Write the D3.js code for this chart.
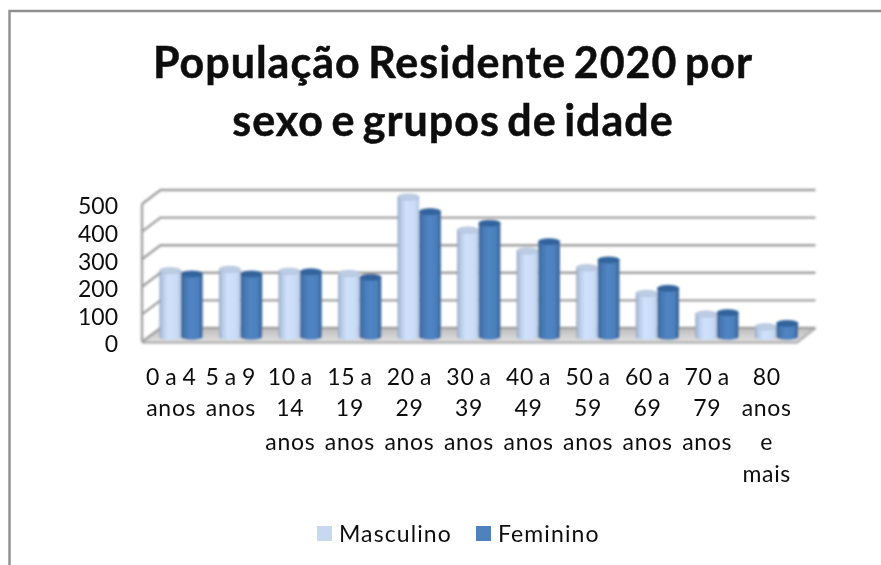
<!DOCTYPE html>
<html>
<head>
<meta charset="utf-8">
<script src="https://cdn.jsdelivr.net/npm/d3@7"></script>
<style>
  html, body { margin: 0; padding: 0; background: #fff; }
  svg { display: block; }
  text { font-family: Lato, "Open Sans", sans-serif; fill: #111; }
</style>
</head>
<body>
<div id="container"></div>
<script>
const titleLines = ["População Residente 2020 por", "sexo e grupos de idade"]
const categories = [
    ["0 a 4", "anos"], ["5 a 9", "anos"], ["10 a", "14", "anos"], ["15 a", "19", "anos"],
    ["20 a", "29", "anos"], ["30 a", "39", "anos"], ["40 a", "49", "anos"], ["50 a", "59", "anos"],
    ["60 a", "69", "anos"], ["70 a", "79", "anos"], ["80", "anos", "e", "mais"]
]
const masculino = [233, 238, 231, 223, 500, 380, 305, 244, 151, 76, 30]
const feminino = [221, 221, 229, 209, 447, 405, 338, 272, 169, 81, 42]
const seriesNames = ["Masculino", "Feminino"]
const yTicks = [0, 100, 200, 300, 400, 500]

const width = 881, height = 565
const depthX = 18.5, depthY = 14      // how far the back wall sits from the front edge

const svg = d3.select("#container").append("svg")
    .attr("width", width)
    .attr("height", height)

const defs = svg.append("defs")
function blur(id, amount) {
    defs.append("filter").attr("id", id)
        .attr("x", "-10%").attr("y", "-10%").attr("width", "120%").attr("height", "120%")
        .append("feGaussianBlur").attr("stdDeviation", amount)
}
blur("soft", 0.85)
blur("softText", 0.35)

function hGradient(id, stops) {
    const g = defs.append("linearGradient").attr("id", id)
    stops.forEach(s => g.append("stop").attr("offset", s[0]).attr("stop-color", s[1]))
}
hGradient("barM", [[0, "#8fa3bf"], [0.12, "#b4c7e2"], [0.4, "#cfe1fb"], [0.8, "#cadcf6"], [1, "#b3c6e0"]])
hGradient("barF", [[0, "#335f92"], [0.14, "#4475ae"], [0.45, "#5085c4"], [0.8, "#4c80bd"], [1, "#2f5d92"]])
const floorGrad = defs.append("linearGradient").attr("id", "floor")
    .attr("x1", 0).attr("x2", 0).attr("y1", 0).attr("y2", 1)
floorGrad.append("stop").attr("offset", 0).attr("stop-color", "#bdbdbd")
floorGrad.append("stop").attr("offset", 1).attr("stop-color", "#e0e0e0")

// chart frame, only top and left are inside the crop
svg.append("path")
    .attr("d", `M9.5,${height}V11H${width}`)
    .attr("fill", "none")
    .attr("stroke", "#8f8f8f")
    .attr("stroke-width", 2.4)

const title = svg.append("text")
    .attr("text-anchor", "middle")
    .attr("font-weight", 700)
    .attr("font-size", 43)
    .attr("letter-spacing", 1)
    .attr("word-spacing", -4)
    .attr("stroke", "#111")
    .attr("stroke-width", 0.5)
    .attr("filter", "url(#softText)")
title.selectAll("tspan")
    .data(titleLines)
    .join("tspan")
    .attr("x", 453)
    .attr("y", (d, i) => 77.5 + i * 58.5)
    .text(d => d)

const x = d3.scaleBand().domain(d3.range(categories.length)).range([142, 797])
const y = d3.scaleLinear().domain([0, 500]).range([342, 204])

const plot = svg.append("g").attr("filter", "url(#soft)")

// floor
plot.append("path")
    .attr("d", `M${x.range()[0]},${y(0)}L${x.range()[1]},${y(0)}L${x.range()[1] + depthX},${y(0) - depthY}L${x.range()[0] + depthX},${y(0) - depthY}Z`)
    .attr("fill", "url(#floor)")
plot.append("path")
    .attr("d", `M${x.range()[0]},${y(0) + 0.5}H${x.range()[1]}L${x.range()[1] + depthX},${y(0) - depthY}`)
    .attr("fill", "none")
    .attr("stroke", "#b3b3b3")
    .attr("stroke-width", 2.4)

// gridlines on the back and left walls
plot.append("g")
    .selectAll("path")
    .data(yTicks)
    .join("path")
    .attr("d", d => `M${x.range()[0]},${y(d)}l${depthX},${-depthY}H${x.range()[1] + depthX}`)
    .attr("fill", "none")
    .attr("stroke", "#a0a0a0")
    .attr("stroke-width", 2.4)
plot.append("line")
    .attr("x1", x.range()[0]).attr("x2", x.range()[0])
    .attr("y1", y(500)).attr("y2", y(0))
    .attr("stroke", "#a0a0a0")
    .attr("stroke-width", 2.4)

// cylinders, standing half way into the floor
const barW = 21.6, rimY = 3
const midX = depthX / 2, midY = depthY / 2

function barLeft(i, s) {
    return x(i) + midX + (x.bandwidth() - 2 * barW) / 2 + s * barW
}

function drawSeries(values, s, fill, rim, cap) {
    const g = plot.append("g")
    const bars = g.selectAll("g").data(values).join("g")
    bars.append("path")
        .attr("fill", fill)
        .attr("d", (d, i) => {
            const l = barLeft(i, s), top = y(d) - midY, base = y(0) - midY + 2
            return `M${l},${top}V${base}A${barW / 2},${rimY} 0 0 0 ${l + barW},${base}V${top}Z`
        })
    bars.append("ellipse")
        .attr("cx", (d, i) => barLeft(i, s) + barW / 2)
        .attr("cy", d => y(d) - midY)
        .attr("rx", barW / 2)
        .attr("ry", rimY)
        .attr("fill", cap)
        .attr("stroke", rim)
        .attr("stroke-width", 0.8)
}
drawSeries(masculino, 0, "url(#barM)", "#a9b9d0", "#bccde4")
drawSeries(feminino, 1, "url(#barF)", "#2f5f96", "#32639c")

// value axis
const yAxis = d3.axisLeft(y).tickValues(yTicks).tickSize(0).tickPadding(0)
const yG = svg.append("g")
    .attr("transform", "translate(118,2.5)")
    .call(yAxis)
yG.select(".domain").remove()
yG.selectAll("text")
    .attr("font-size", 23)
    .attr("font-family", "Lato")
    .attr("fill", "#111")
    .attr("filter", "url(#softText)")

// category labels, wrapped by hand like the original
const catG = svg.append("g")
    .attr("text-anchor", "middle")
    .attr("font-size", 23)
    .attr("letter-spacing", 0.7)
    .attr("word-spacing", -1.5)
    .attr("filter", "url(#softText)")
const catLineY = [384.5, 416, 449.5, 481.5]
categories.forEach((lines, i) => {
    catG.append("text")
        .selectAll("tspan")
        .data(lines)
        .join("tspan")
        .attr("x", x(i) + x.bandwidth() / 2 - 0.5)
        .attr("y", (d, j) => catLineY[j])
        .text(d => d)
})

// legend
const legendX = [317, 476]
const legendColor = ["#c6d9f1", "#4f81bd"]
const legend = svg.append("g")
    .selectAll("g")
    .data(seriesNames)
    .join("g")
    .attr("transform", (d, i) => `translate(${legendX[i]},526)`)
legend.append("rect")
    .attr("width", 15)
    .attr("height", 15)
    .attr("fill", (d, i) => legendColor[i])
legend.append("text")
    .attr("x", 22)
    .attr("y", 15.5)
    .attr("font-size", 23)
    .attr("letter-spacing", 1.1)
    .attr("filter", "url(#softText)")
    .text(d => d)
</script>
</body>
</html>
